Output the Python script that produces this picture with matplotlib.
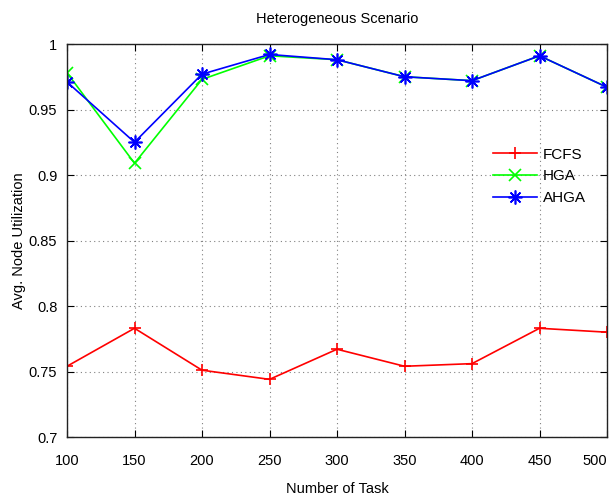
import matplotlib
matplotlib.use("Agg")
import matplotlib.pyplot as plt

tasks = [100, 150, 200, 250, 300, 350, 400, 450, 500]
fcfs = [0.754, 0.783, 0.751, 0.744, 0.767, 0.754, 0.756, 0.783, 0.780]
hga = [0.978, 0.909, 0.973, 0.991, 0.988, 0.975, 0.972, 0.991, 0.967]
ahga = [0.971, 0.925, 0.977, 0.992, 0.988, 0.975, 0.972, 0.991, 0.967]
yticks = [0.7, 0.75, 0.8, 0.85, 0.9, 0.95, 1.0]
ytick_labels = ["0.7", "0.75", "0.8", "0.85", "0.9", "0.95", "1"]

plt.rcParams['font.family'] = ['Liberation Sans', 'DejaVu Sans']
fig = plt.figure(figsize=(6.12, 5.01), dpi=100)
ax = fig.add_axes([67/612, 1-437/501, 540/612, 393/501])

ax.plot(tasks, fcfs, color=(1, 0, 0), lw=1.2, marker='+', ms=9, mew=1.2, label='FCFS')
ax.plot(tasks, hga, color=(0, 1, 0), lw=1.2, marker='x', ms=8, mew=1.2, label='HGA')
ax.plot(tasks, ahga, color=(0, 0, 1), lw=1.2, marker=(8, 2, 0), ms=10, mew=1.2, label='AHGA')

ax.set_xlim(100, 500)
ax.set_ylim(0.7, 1.0)
ax.set_xticks(tasks)
ax.set_xticklabels([str(t) for t in tasks])
ax.get_xticklabels()[-1].set_horizontalalignment('right')
ax.set_yticks(yticks)
ax.set_yticklabels(ytick_labels)
ax.grid(True, linestyle=(0, (1, 3)), color='#808080', lw=0.8)
ax.tick_params(direction='in', top=True, right=True, length=5, labelsize=10.5)
ax.tick_params(axis='x', pad=12)
ax.tick_params(axis='y', pad=7)
for s in ax.spines.values():
    s.set_linewidth(1.0)
    s.set_color('#222222')

ax.set_title('Heterogeneous Scenario', fontsize=10.5, pad=15)
ax.set_xlabel('Number of Task', fontsize=10.5)
ax.xaxis.set_label_coords(0.5, -(482 - 437) / 393)
ax.set_ylabel('Avg. Node Utilization', fontsize=10.5)
ax.yaxis.set_label_coords(-(67 - 26) / 540, 0.5)

leg = ax.legend(loc='upper left', bbox_to_anchor=(412/540, 1-90/393), frameon=False,
                fontsize=11, handlelength=2.9, handletextpad=0.4, labelspacing=0.5)

fig.savefig('out.png', dpi=100)
